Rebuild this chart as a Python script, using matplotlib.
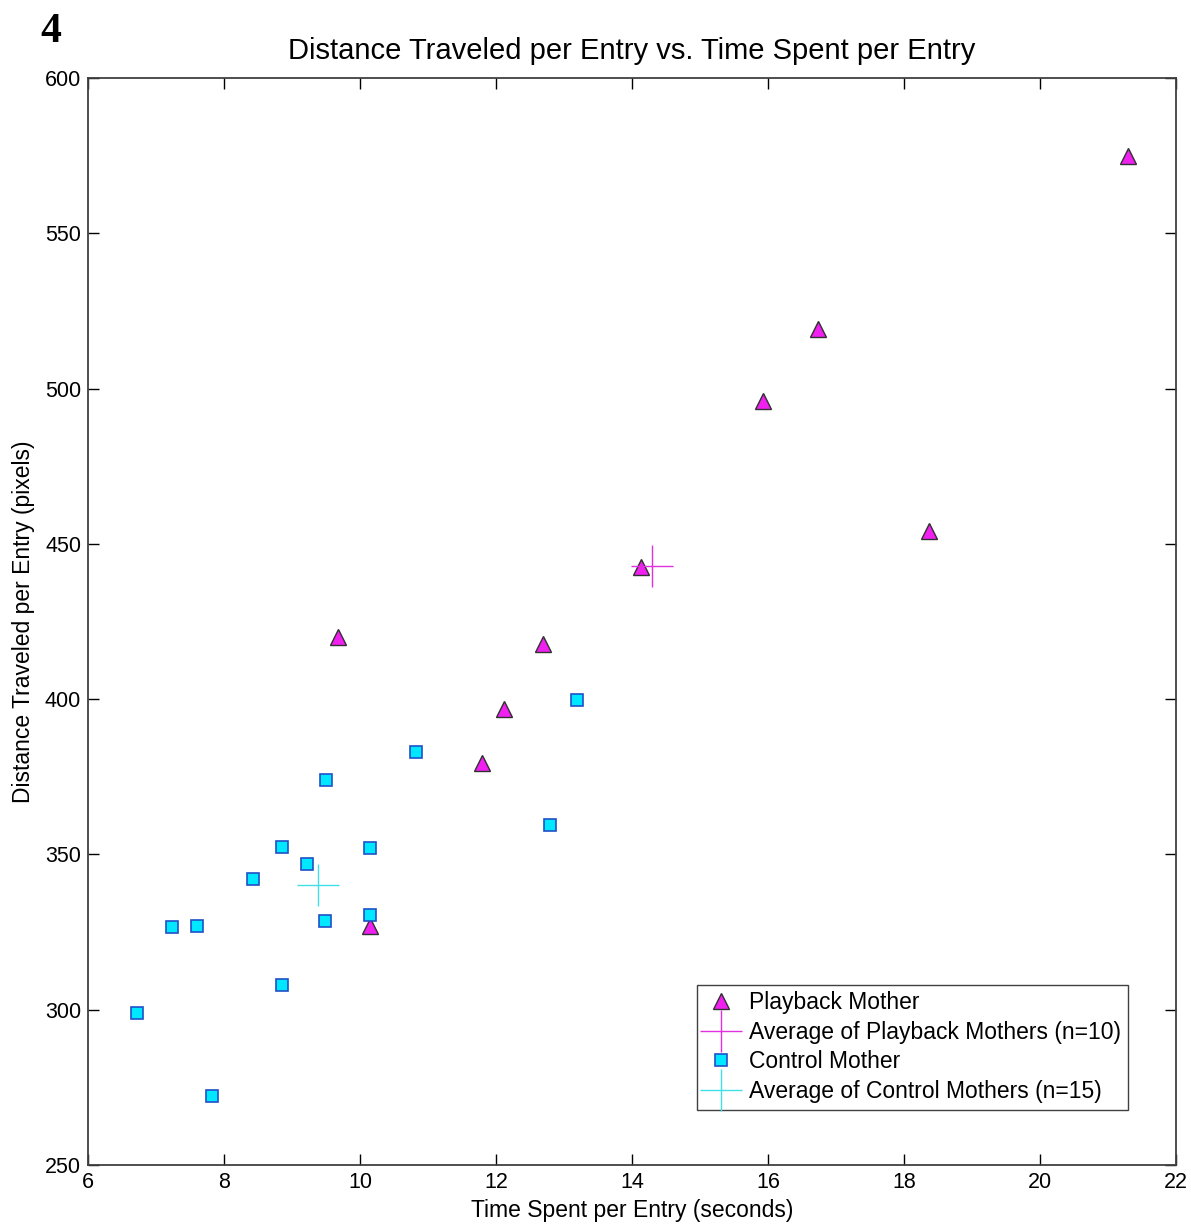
import numpy as np
import matplotlib
matplotlib.use('Agg')
import matplotlib.pyplot as plt

plt.rcParams['font.family'] = ['Liberation Sans', 'DejaVu Sans']

# playback mothers (n=10)
play_time = [21.29, 16.74, 15.93, 18.37, 14.13, 9.68, 12.69, 12.12, 11.79, 10.15]
play_dist = [574.9, 519.2, 496.0, 454.1, 442.5, 420.0, 417.7, 396.8, 379.4, 327.0]

# control mothers (n=15)
ctrl_time = [8.86, 10.14, 9.22, 8.43, 7.23, 7.61, 9.49, 10.14, 8.86, 6.72,
             7.82, 9.50, 10.82, 12.79, 13.19]
ctrl_dist = [352.3, 352.0, 346.8, 342.1, 326.5, 326.9, 328.5, 330.4, 308.0, 299.0,
             272.2, 374.0, 383.0, 359.5, 399.7]

xticks = [6, 8, 10, 12, 14, 16, 18, 20, 22]
yticks = [250, 300, 350, 400, 450, 500, 550, 600]

fig = plt.figure(figsize=(11.91, 12.24), dpi=100)
ax = fig.add_axes([88/1191, 59/1224, 1088/1191, 1087/1224])

ax.plot(play_time, play_dist, ls='none', marker='^', ms=11, mfc='#f020f0', mec='#303030',
        mew=1.0, label='Playback Mother')
ax.plot(np.mean(play_time), np.mean(play_dist), ls='none', marker='+', ms=30, mew=1.0,
        color='#e030e0', label='Average of Playback Mothers (n=10)')
ax.plot(ctrl_time, ctrl_dist, ls='none', marker='s', ms=9, mfc='#00e8ff', mec='#2050c8',
        mew=1.2, label='Control Mother')
ax.plot(np.mean(ctrl_time), np.mean(ctrl_dist), ls='none', marker='+', ms=30, mew=1.0,
        color='#40e0e8', label='Average of Control Mothers (n=15)')

ax.set_xlim(6, 22)
ax.set_ylim(250, 600)
ax.set_xticks(xticks)
ax.set_yticks(yticks)
ax.tick_params(direction='in', length=8, width=1, top=True, right=True, labelsize=15.5, pad=5)
for s in ax.spines.values():
    s.set_color('#404040')
    s.set_linewidth(1.3)

ax.set_title('Distance Traveled per Entry vs. Time Spent per Entry', fontsize=21, pad=14)
ax.set_xlabel('Time Spent per Entry (seconds)', fontsize=16.5, labelpad=4)
ax.set_ylabel('Distance Traveled per Entry (pixels)', fontsize=16.5, labelpad=7)

leg = ax.legend(loc='lower right', bbox_to_anchor=(0.956, 0.051), borderaxespad=0,
                fontsize=16.5, numpoints=1, handlelength=1.5, handletextpad=0.5,
                labelspacing=0.28, borderpad=0.3, fancybox=False, framealpha=1,
                edgecolor='#404040')
leg.get_frame().set_linewidth(1.0)

fig.text(40/1191, 1 - 42/1224, '4', fontsize=30, fontweight='bold',
         family=['Liberation Serif', 'DejaVu Serif'])

fig.savefig('out.png', dpi=100)
